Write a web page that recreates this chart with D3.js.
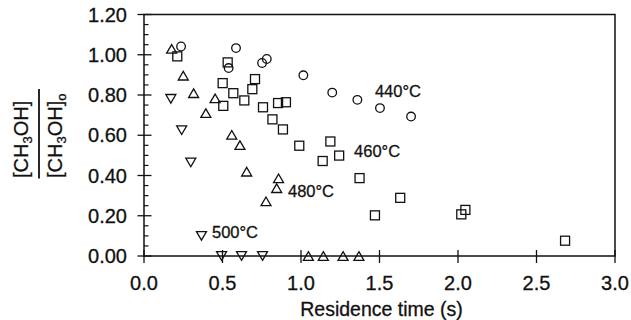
<!DOCTYPE html>
<html>
<head>
<meta charset="utf-8">
<script src="https://cdn.jsdelivr.net/npm/d3@7"></script>
<style>
  html, body { margin: 0; padding: 0; background: #fff; }
  svg { display: block; font-family: "Liberation Sans", Arial, Helvetica, sans-serif; }
  text { stroke: #111; stroke-width: 0.3px; }
</style>
</head>
<body>
<svg id="chart" width="631" height="320"></svg>
<script>
// ---- Data ----
const xTicks = [0, 0.5, 1.0, 1.5, 2.0, 2.5, 3.0];
const xTickLabels = ["0.0", "0.5", "1.0", "1.5", "2.0", "2.5", "3.0"];
const yTicks = [0, 0.2, 0.4, 0.6, 0.8, 1.0, 1.2];
const yTickLabels = ["0.00", "0.20", "0.40", "0.60", "0.80", "1.00", "1.20"];
const yMinorTicks = [0.05, 0.10, 0.15, 0.25, 0.30, 0.35, 0.45, 0.50, 0.55, 0.65, 0.70, 0.75, 0.85, 0.90, 0.95, 1.05, 1.10, 1.15];

// 440 °C (circles)
const t440_x = [0.236, 0.586, 0.539, 0.752, 0.782, 1.015, 1.199, 1.359, 1.503, 1.701];
const t440_y = [1.041, 1.033, 0.934, 0.959, 0.979, 0.898, 0.812, 0.776, 0.735, 0.693];

// 460 °C (squares)
const t460_x = [0.212, 0.533, 0.501, 0.569, 0.505, 0.639, 0.690, 0.707, 0.758, 0.818, 0.854, 0.904, 0.885, 0.989, 1.187, 1.243, 1.138, 1.373, 1.632, 1.471, 2.021, 2.047, 2.682];
const t460_y = [0.992, 0.962, 0.859, 0.809, 0.746, 0.773, 0.829, 0.879, 0.739, 0.679, 0.760, 0.764, 0.629, 0.548, 0.569, 0.499, 0.472, 0.387, 0.289, 0.202, 0.207, 0.229, 0.076];

// 480 °C (triangles)
const t480_x = [0.176, 0.250, 0.316, 0.453, 0.394, 0.559, 0.611, 0.654, 0.857, 0.845, 0.777, 1.047, 1.142, 1.268, 1.369];
const t480_y = [1.029, 0.896, 0.809, 0.783, 0.710, 0.602, 0.551, 0.419, 0.386, 0.337, 0.272, 0.0, 0.0, 0.0, 0.0];

// 500 °C (inverted triangles)
const t500_x = [0.171, 0.240, 0.298, 0.366, 0.494, 0.621, 0.755];
const t500_y = [0.781, 0.625, 0.465, 0.100, 0.0, 0.0, 0.0];

const seriesLabels = ["440°C", "460°C", "480°C", "500°C"];
const labelX = [1.471, 1.338, 0.917, 0.433];
const labelY = [0.791, 0.493, 0.293, 0.089];

const xTitle = "Residence time (s)";

// ---- Layout ----
const svg = d3.select("#chart");
const mLeft = 144, mRight = 615, mTop = 14.5, mBottom = 256;
const x = d3.scaleLinear().domain([0, 3]).range([mLeft, mRight]);
const y = d3.scaleLinear().domain([0, 1.2]).range([mBottom, mTop]);

// frame
svg.append("rect")
  .attr("x", mLeft).attr("y", mTop)
  .attr("width", mRight - mLeft).attr("height", mBottom - mTop)
  .attr("fill", "none").attr("stroke", "#111").attr("stroke-width", 1.5);

// x axis ticks (crossing)
const gx = svg.append("g");
gx.selectAll("line").data(xTicks).join("line")
  .attr("x1", d => x(d)).attr("x2", d => x(d))
  .attr("y1", mBottom - 6).attr("y2", mBottom + 7)
  .attr("stroke", "#111").attr("stroke-width", 1.3);
gx.selectAll("text").data(xTicks).join("text")
  .attr("x", d => x(d)).attr("y", 290)
  .attr("text-anchor", "middle")
  .attr("font-size", 20).attr("fill", "#111")
  .text((d, i) => xTickLabels[i]);

// y axis ticks
const gy = svg.append("g");
gy.selectAll("line.major").data(yTicks).join("line").attr("class", "major")
  .attr("x1", mLeft - 6.5).attr("x2", mLeft + 7.5)
  .attr("y1", d => y(d)).attr("y2", d => y(d))
  .attr("stroke", "#111").attr("stroke-width", 1.3);
gy.selectAll("line.minor").data(yMinorTicks).join("line").attr("class", "minor")
  .attr("x1", mLeft).attr("x2", mLeft + 4.5)
  .attr("y1", d => y(d)).attr("y2", d => y(d))
  .attr("stroke", "#111").attr("stroke-width", 1.2);
gy.selectAll("text").data(yTicks).join("text")
  .attr("x", 127).attr("y", d => y(d))
  .attr("dy", "0.36em")
  .attr("text-anchor", "end")
  .attr("font-size", 20).attr("fill", "#111")
  .text((d, i) => yTickLabels[i]);

// x title
svg.append("text")
  .attr("x", (mLeft + mRight) / 2 + 2).attr("y", 316)
  .attr("text-anchor", "middle")
  .attr("font-size", 19.5).attr("fill", "#111")
  .text(xTitle);

// y title: fraction [CH3OH] / [CH3OH]o
function ylab(tx, sub2) {
  const t = svg.append("text")
    .attr("transform", `translate(${tx},178) rotate(-90)`)
    .attr("font-size", 20).attr("fill", "#111");
  t.append("tspan").text("[CH");
  t.append("tspan").attr("font-size", 13).attr("dy", 4).text("3");
  t.append("tspan").attr("dy", -4).text("OH]");
  if (sub2) t.append("tspan").attr("font-size", 13).attr("dy", 4).text("o");
}
ylab(27.5, false);
ylab(62, true);
svg.append("line")
  .attr("x1", 39).attr("x2", 39).attr("y1", 89).attr("y2", 178.5)
  .attr("stroke", "#111").attr("stroke-width", 1.8);

// markers
const mk = svg.append("g").attr("fill", "none").attr("stroke", "#111").attr("stroke-width", 1.3);
const zip = (xs, ys) => xs.map((v, i) => [v, ys[i]]);

mk.selectAll("circle").data(zip(t440_x, t440_y)).join("circle")
  .attr("cx", d => x(d[0])).attr("cy", d => y(d[1])).attr("r", 4.3);

mk.selectAll("rect").data(zip(t460_x, t460_y)).join("rect")
  .attr("x", d => x(d[0]) - 4.5).attr("y", d => y(d[1]) - 4.5)
  .attr("width", 9).attr("height", 9);

const triUp = "M0,-4.3L5,4.3L-5,4.3Z";
const triDown = "M0,4.3L5,-4.3L-5,-4.3Z";
mk.selectAll("path.up").data(zip(t480_x, t480_y)).join("path").attr("class", "up")
  .attr("transform", d => `translate(${x(d[0])},${y(d[1])})`).attr("d", triUp);
mk.selectAll("path.down").data(zip(t500_x, t500_y)).join("path").attr("class", "down")
  .attr("transform", d => `translate(${x(d[0])},${y(d[1])})`).attr("d", triDown);

// series labels
svg.append("g").selectAll("text").data(seriesLabels).join("text")
  .attr("x", (d, i) => x(labelX[i])).attr("y", (d, i) => y(labelY[i]))
  .attr("font-size", 16.5).attr("fill", "#111")
  .text(d => d);
</script>
</body>
</html>
